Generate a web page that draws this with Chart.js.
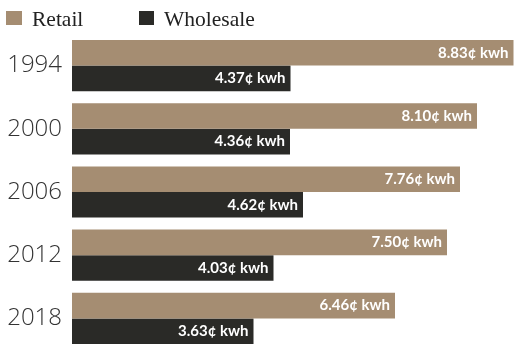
<!DOCTYPE html>
<html><head><meta charset="utf-8">
<script src="https://cdn.jsdelivr.net/npm/chart.js@4"></script>
<style>
html,body{margin:0;padding:0;background:#fff;overflow:hidden;width:517px;height:344px}
canvas{display:block}
</style></head>
<body>
<canvas id="c" width="517" height="372"></canvas>
<script>
const years = ['1994', '2000', '2006', '2012', '2018'];
const retail = [8.83, 8.10, 7.76, 7.50, 6.46];
const wholesale = [4.37, 4.36, 4.62, 4.03, 3.63];
const seriesNames = ['Retail', 'Wholesale'];
const unitSuffix = '¢ kwh';

const colRetail = '#a58d72';
const colWholesale = '#2a2a27';

const labelPlugin = {
  id: 'barLabels',
  afterDatasetsDraw(chart) {
    const ctx = chart.ctx;
    ctx.save();
    ctx.fillStyle = '#ffffff';
    ctx.font = 'bold 15px Lato, "DejaVu Sans", sans-serif';
    ctx.textAlign = 'right';
    ctx.textBaseline = 'middle';
    chart.data.datasets.forEach((ds, di) => {
      const meta = chart.getDatasetMeta(di);
      meta.data.forEach((bar, i) => {
        ctx.fillText(ds.data[i].toFixed(2) + unitSuffix, bar.x - 5, bar.y);
      });
    });
    ctx.restore();
  },
  afterDraw(chart) {
    const ctx = chart.ctx;
    ctx.save();
    const items = [{x: 6, w: 16}, {x: 139, w: 15}];
    chart.data.datasets.forEach((ds, di) => {
      const it = items[di];
      ctx.fillStyle = ds.backgroundColor;
      ctx.fillRect(it.x, 11, it.w, 14);
      ctx.fillStyle = '#222';
      ctx.font = '21.5px "Liberation Serif", serif';
      ctx.textAlign = 'left';
      ctx.textBaseline = 'alphabetic';
      ctx.fillText(ds.label, it.x + it.w + 10, 26);
    });
    ctx.restore();
  }
};

new Chart(document.getElementById('c'), {
  type: 'bar',
  data: {
    labels: years,
    datasets: [
      {label: seriesNames[0], data: retail, backgroundColor: colRetail},
      {label: seriesNames[1], data: wholesale, backgroundColor: colWholesale}
    ]
  },
  options: {
    indexAxis: 'y',
    responsive: false,
    animation: false,
    events: [],
    layout: {padding: {top: 34, left: 0, right: 0, bottom: 0}},
    datasets: {bar: {categoryPercentage: 0.81, barPercentage: 1.0}},
    plugins: {legend: {display: false}, tooltip: {enabled: false}, title: {display: false}},
    scales: {
      x: {display: false, min: 0, max: 8.9},
      y: {
        grid: {display: false, drawTicks: false},
        border: {display: false},
        ticks: {
          color: '#333',
          padding: 10,
          font: {family: '"Open Sans", sans-serif', size: 24, weight: 300, lineHeight: 1}
        },
        afterFit(s) { s.width = 72; }
      }
    }
  },
  plugins: [labelPlugin]
});
</script>
</body></html>
